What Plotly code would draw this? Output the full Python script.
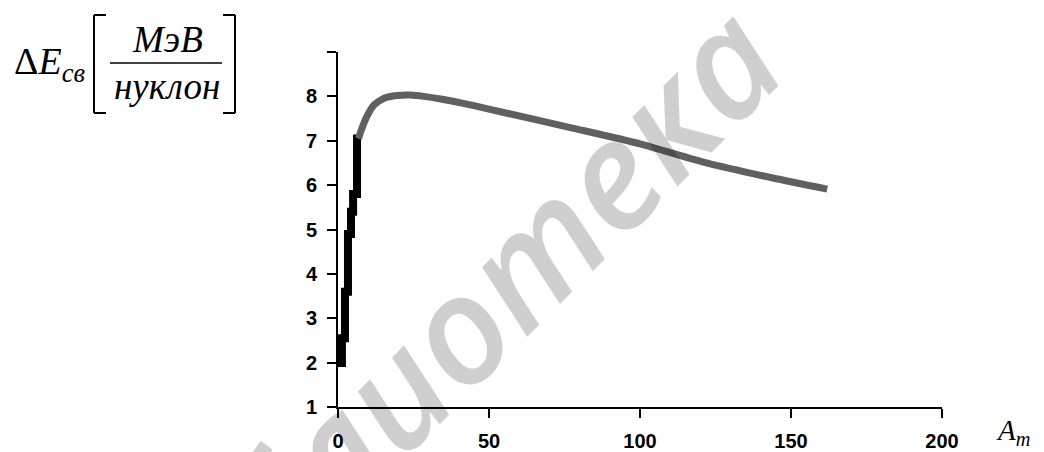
import plotly.graph_objects as go

# ---- data ----
A_steps = [1.3, 2.3, 3.3, 4.3, 5.0, 6.3, 6.8]
E_steps = [1.9, 2.55, 3.6, 4.9, 5.4, 5.8, 7.05]

A_curve = [6.8, 7.6, 9.8, 12, 15.3, 19.7, 24, 28.4, 34, 45, 56, 78, 100, 122, 144, 162]
E_curve = [7.05, 7.22, 7.58, 7.81, 7.96, 8.02, 8.03, 8.0, 7.94, 7.79, 7.62, 7.28, 6.93, 6.5, 6.16, 5.91]

x_ticks = [0, 50, 100, 150, 200]
x_tick_labels = ["0", "50", "100", "150", "200"]
y_ticks = [1, 2, 3, 4, 5, 6, 7, 8, 9]
y_tick_labels = ["1", "2", "3", "4", "5", "6", "7", "8", ""]

# ---- layout geometry ----
# the page body adds an 8 px offset, so the figure is 8 px smaller than the window
OFF = 8
W, H = 1044 - OFF, 452 - OFF
L, R, T, B = 338 - OFF, 1044 - 942, 52 - OFF, 452 - 407
PW, PH = W - L - R, H - T - B


def sx(x):
    """screen pixel x -> paper fraction"""
    return (x - OFF - L) / PW


def sy(y):
    """screen pixel y -> paper fraction"""
    return (H - B - (y - OFF)) / PH


fig = go.Figure()
fig.add_trace(go.Scatter(x=A_steps, y=E_steps, mode="lines",
                         line=dict(color="black", width=8, shape="vh"),
                         hoverinfo="skip", showlegend=False))
fig.add_trace(go.Scatter(x=A_curve, y=E_curve, mode="lines",
                         line=dict(color="#606060", width=7, shape="spline", smoothing=0.6),
                         hoverinfo="skip", showlegend=False))

tick_font = dict(family="Liberation Sans, Arial, sans-serif", size=20, color="black", weight="bold")

fig.update_xaxes(range=[0, 200], tickvals=x_ticks, ticktext=x_tick_labels,
                 showline=True, linecolor="black", linewidth=2,
                 ticks="outside", ticklen=9, tickwidth=2, tickcolor="black",
                 showgrid=False, zeroline=False, tickfont=tick_font,
                 ticklabelstandoff=6, automargin=False)
fig.update_yaxes(range=[1, 9], tickvals=y_ticks, ticktext=y_tick_labels,
                 showline=True, linecolor="black", linewidth=2,
                 ticks="outside", ticklen=9, tickwidth=2, tickcolor="black",
                 showgrid=False, zeroline=False, tickfont=tick_font,
                 ticklabelstandoff=6, automargin=False)

serif = "Liberation Serif, Times New Roman, serif"
ann = []
# watermark (drawn first so the other texts stay on top)
ann.append(dict(x=sx(434), y=sy(348), xref="paper", yref="paper", xanchor="center", yanchor="middle",
                text="<i>библиотека</i>", showarrow=False, textangle=-45,
                font=dict(family="Open Sans, Noto Sans, sans-serif", size=150,
                          color="rgba(0,0,0,0.19)", weight=600)))
# Y-axis title: ΔE_св [МэВ / нуклон]
ann.append(dict(x=sx(12), y=sy(64), xref="paper", yref="paper", xanchor="left", yanchor="middle",
                text="Δ<i>E</i><sub><i>св</i></sub>", showarrow=False,
                font=dict(family=serif, size=38, color="black")))
ann.append(dict(x=sx(167), y=sy(39), xref="paper", yref="paper", xanchor="center", yanchor="middle",
                text="<i>МэВ</i>", showarrow=False,
                font=dict(family=serif, size=37, color="black")))
ann.append(dict(x=sx(167), y=sy(86), xref="paper", yref="paper", xanchor="center", yanchor="middle",
                text="<i>нуклон</i>", showarrow=False,
                font=dict(family=serif, size=37, color="black")))
# X-axis title: A_m
ann.append(dict(x=sx(994), y=sy(432), xref="paper", yref="paper", xanchor="left", yanchor="middle",
                text="<i>A</i><sub><i>m</i></sub>", showarrow=False,
                font=dict(family=serif, size=29, color="black")))

shapes = []
line_k = dict(color="black", width=2)
# fraction bar
shapes.append(dict(type="line", xref="paper", yref="paper", x0=sx(110), x1=sx(222), y0=sy(63), y1=sy(63),
                   line=dict(color="black", width=1.5)))
# brackets
for (x0, y0, x1, y1) in [(94, 15, 94, 113), (94, 15, 106, 15), (94, 113, 106, 113),
                         (235, 15, 235, 113), (223, 15, 235, 15), (223, 113, 235, 113)]:
    shapes.append(dict(type="line", xref="paper", yref="paper",
                       x0=sx(x0), x1=sx(x1), y0=sy(y0), y1=sy(y1), line=line_k))

fig.update_layout(width=W, height=H, margin=dict(l=L, r=R, t=T, b=B),
                  paper_bgcolor="white", plot_bgcolor="white",
                  annotations=ann, shapes=shapes, showlegend=False)

fig.write_html("out.html")
